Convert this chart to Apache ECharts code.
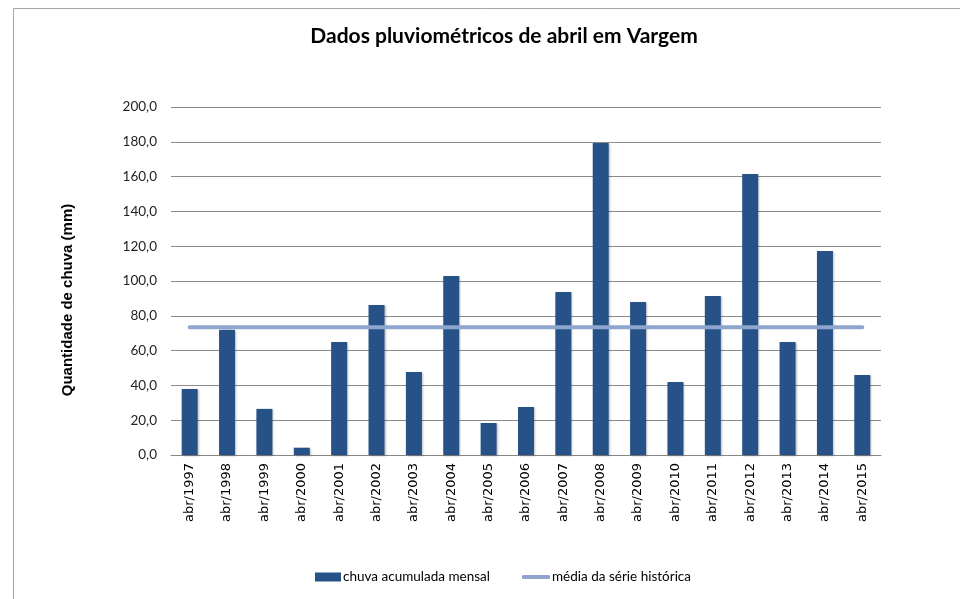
<!DOCTYPE html>
<html>
<head>
<meta charset="utf-8">
<script src="https://cdn.jsdelivr.net/npm/echarts@6/dist/echarts.min.js"></script>
<style>
  html, body { margin: 0; padding: 0; background: #fff; }
  #main { width: 960px; height: 599px; }
</style>
</head>
<body>
<div id="main"></div>
<script>
// dados
var categorias = ["abr/1997", "abr/1998", "abr/1999", "abr/2000", "abr/2001", "abr/2002", "abr/2003",
  "abr/2004", "abr/2005", "abr/2006", "abr/2007", "abr/2008", "abr/2009", "abr/2010", "abr/2011",
  "abr/2012", "abr/2013", "abr/2014", "abr/2015"];
var chuvaMensal = [38, 72, 26.5, 4.2, 65, 86.2, 47.7, 102.9, 18.4, 27.6, 93.7, 179.3, 87.9, 42, 91.4, 161.5, 65, 117.2, 46];
var mediaSerie = 73.4;
var ticksY = [0, 20, 40, 60, 80, 100, 120, 140, 160, 180, 200];

var fonteTexto = "Lato";
var legendaTexto = { fontFamily: fonteTexto, fontSize: 13.5, color: "#000", padding: [0, 0, 0, -3] };

var chart = echarts.init(document.getElementById("main"));
chart.setOption({
  animation: false,
  title: {
    text: "Dados pluviométricos de abril em Vargem",
    left: 499,
    top: 21,
    textAlign: "center",
    textStyle: {
      fontFamily: fonteTexto,
      fontSize: 21,
      fontWeight: "bold",
      color: "#000"
    }
  },
  graphic: [
    {
      type: "rect",
      shape: { x: 13.5, y: 8.5, width: 1000, height: 700 },
      style: { fill: "none", stroke: "#a6a6a6", lineWidth: 1 },
      silent: true
    },
    {
      type: "text",
      x: 68,
      y: 300,
      rotation: Math.PI / 2,
      style: {
        text: "Quantidade de chuva (mm)",
        fontFamily: "Liberation Sans",
        fontSize: 15,
        fontWeight: "bold",
        fill: "#000",
        align: "center",
        verticalAlign: "middle"
      }
    }
  ],
  legend: [
    {
      bottom: 10,
      left: 310,
      itemWidth: 26,
      itemHeight: 9,
      textStyle: legendaTexto,
      data: [{ name: "chuva acumulada mensal", icon: "rect" }]
    },
    {
      bottom: 10,
      left: 517,
      itemWidth: 28,
      itemHeight: 4,
      textStyle: legendaTexto,
      data: [{ name: "média da série histórica", icon: "roundRect" }]
    }
  ],
  grid: { left: 171, right: 79, top: 107, bottom: 144 },
  xAxis: {
    type: "category",
    data: categorias,
    boundaryGap: true,
    axisLine: { lineStyle: { color: "#888", width: 1 } },
    axisTick: { show: false },
    axisLabel: {
      rotate: 90,
      margin: 8,
      fontFamily: "DejaVu Sans",
      fontSize: 13,
      color: "#000"
    }
  },
  yAxis: {
    type: "value",
    min: ticksY[0],
    max: ticksY[ticksY.length - 1],
    interval: 20,
    axisLine: { show: false },
    axisTick: { show: false },
    splitLine: { lineStyle: { color: "#8c8c8c", width: 1 } },
    axisLabel: {
      margin: 14,
      fontFamily: fonteTexto,
      fontSize: 13.5,
      color: "#222",
      formatter: function (v) { return v.toFixed(1).replace(".", ","); }
    }
  },
  series: [
    {
      name: "chuva acumulada mensal",
      type: "bar",
      data: chuvaMensal,
      barWidth: 16,
      itemStyle: {
        color: "#265287",
        shadowColor: "rgba(0,0,0,0.25)",
        shadowBlur: 2,
        shadowOffsetX: 1,
        shadowOffsetY: 1
      }
    },
    {
      name: "média da série histórica",
      type: "line",
      data: categorias.map(function () { return mediaSerie; }),
      symbol: "none",
      lineStyle: { color: "#8ea6cd", width: 4, cap: "round" },
      itemStyle: { color: "#8ea6cd" }
    }
  ]
});
</script>
</body>
</html>
